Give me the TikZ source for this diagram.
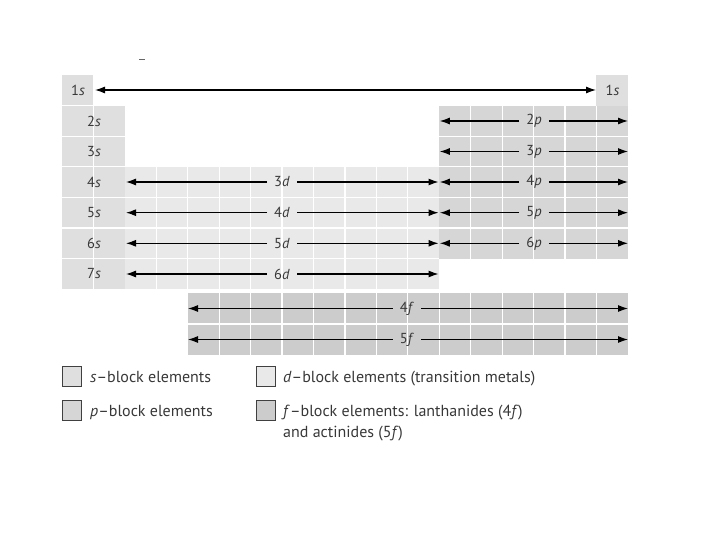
\documentclass[tikz,border=0pt]{standalone}
\usepackage{fontspec}
\setmainfont{PT Sans}
\usetikzlibrary{arrows.meta}
\definecolor{sblk}{gray}{0.875}
\definecolor{dblk}{gray}{0.915}
\definecolor{pblk}{gray}{0.84}
\definecolor{fblk}{gray}{0.80}
\definecolor{ink}{gray}{0.22}
\tikzset{
  arr/.style={line width=1.1pt, black, -{Latex[length=10pt,width=7pt]}},
  arrb/.style={line width=1.1pt, black, {Latex[length=10pt,width=7pt]}-{Latex[length=10pt,width=7pt]}},
  lbl/.style={font=\fontsize{14.5}{16}\selectfont, text=ink, inner ysep=0pt, inner xsep=7pt},
  cell/.style={font=\fontsize{14.5}{16}\selectfont, text=ink, inner sep=0pt},
  gridl/.style={white, line width=1.3pt},
  legbox/.style={draw=black!75, line width=0.9pt, minimum width=19pt, minimum height=20pt, inner sep=0pt},
  legtxt/.style={font=\fontsize{16}{18}\selectfont, text=ink, anchor=base west, inner sep=0pt}
}
\begin{document}
\begin{tikzpicture}[x=1pt,y=-1pt]
\useasboundingbox (0,0) rectangle (720,540);
% tiny mark
\draw[black!60, line width=1pt] (139,60) -- (145,60);
% blocks
\fill[sblk] (62,75) rectangle (93.44,105.6);
\fill[sblk] (62,105.6) rectangle (124.88,289.2);
\fill[sblk] (596.48,75) rectangle (628,105.6);
\fill[pblk] (439.28,105.6) rectangle (628,258.6);
\fill[dblk] (124.88,166.8) rectangle (439.28,289.2);
\fill[fblk] (187.76,293) rectangle (628,355);
% grid lines
\foreach \y in {105.6,136.2,166.8,197.4,228,258.6} \draw[gridl] (62,\y) -- (124.88,\y);
\draw[gridl] (93.44,105.6) -- (93.44,289.2);
\foreach \i in {3,...,11} \draw[gridl] ({62+31.44*\i},166.8) -- ({62+31.44*\i},289.2);
\foreach \y in {197.4,228,258.6} \draw[gridl] (124.88,\y) -- (439.28,\y);
\foreach \i in {13,...,17} \draw[gridl] ({62+31.44*\i},105.6) -- ({62+31.44*\i},258.6);
\foreach \y in {136.2,166.8,197.4,228} \draw[gridl] (439.28,\y) -- (628,\y);
\foreach \i in {5,...,17} \draw[gridl] ({62+31.44*\i},293) -- ({62+31.44*\i},355);
\draw[gridl] (187.76,324) -- (628,324);
% s labels
\node[cell] (s1) at (78,90) {1\textit{s}};
\node[cell] (s1r) at (612.5,90) {1\textit{s}};
\node[cell] (s2) at (94,121) {2\textit{s}};
\node[cell] (s3) at (94,151.5) {3\textit{s}};
\node[cell] (s4) at (94,182) {4\textit{s}};
\node[cell] (s5) at (94,212.7) {5\textit{s}};
\node[cell] (s6) at (94,243.3) {6\textit{s}};
\node[cell] (s7) at (94,274) {7\textit{s}};
\coordinate (a1L) at (95,90);
\coordinate (a1R) at (596,90);
\draw[arrb] (a1L) -- (a1R);
% d rows
\foreach \n/\lab/\y in {d3/3/182, d4/4/212.7, d5/5/243.3, d6/6/274}{
  \coordinate (\n L) at (126,\y);
  \coordinate (\n R) at (438.5,\y);
  \node[lbl] (\n) at (282,\y) {\lab\textit{d}};
  \draw[arr] (\n.west) -- (\n L);
  \draw[arr] (\n.east) -- (\n R);
}
% p rows
\foreach \n/\lab/\y in {p2/2/121, p3/3/151.5, p4/4/182, p5/5/212.7, p6/6/243.3}{
  \coordinate (\n L) at (439.8,\y);
  \coordinate (\n R) at (628,\y);
  \node[lbl] (\n) at (534,\y) {\lab\textit{p}};
  \draw[arr] (\n.west) -- (\n L);
  \draw[arr] (\n.east) -- (\n R);
}
% f rows
\foreach \n/\lab/\y in {f4/4/308.5, f5/5/339.5}{
  \coordinate (\n L) at (188,\y);
  \coordinate (\n R) at (628,\y);
  \node[lbl] (\n) at (407,\y) {\lab\textit{f}};
  \draw[arr] (\n.west) -- (\n L);
  \draw[arr] (\n.east) -- (\n R);
}
% legend
\node[legbox, fill=sblk] (ls) at (72,376.5) {};
\node[legbox, fill=pblk] (lp) at (72,410.5) {};
\node[legbox, fill=dblk] (ld) at (266,376.5) {};
\node[legbox, fill=fblk] (lf) at (266,410.5) {};
\node[legtxt] (ts) at (90,382) {\textit{s}–block elements};
\node[legtxt] (tp) at (90,416) {\textit{p}–block elements};
\node[legtxt] (td) at (283,382) {\textit{d}–block elements (transition metals)};
\node[legtxt] (tf) at (283,416) {\textit{f}–block elements: lanthanides (4\textit{f})};
\node[legtxt] (tf2) at (283,437) {and actinides (5\textit{f})};
\end{tikzpicture}
\end{document}
